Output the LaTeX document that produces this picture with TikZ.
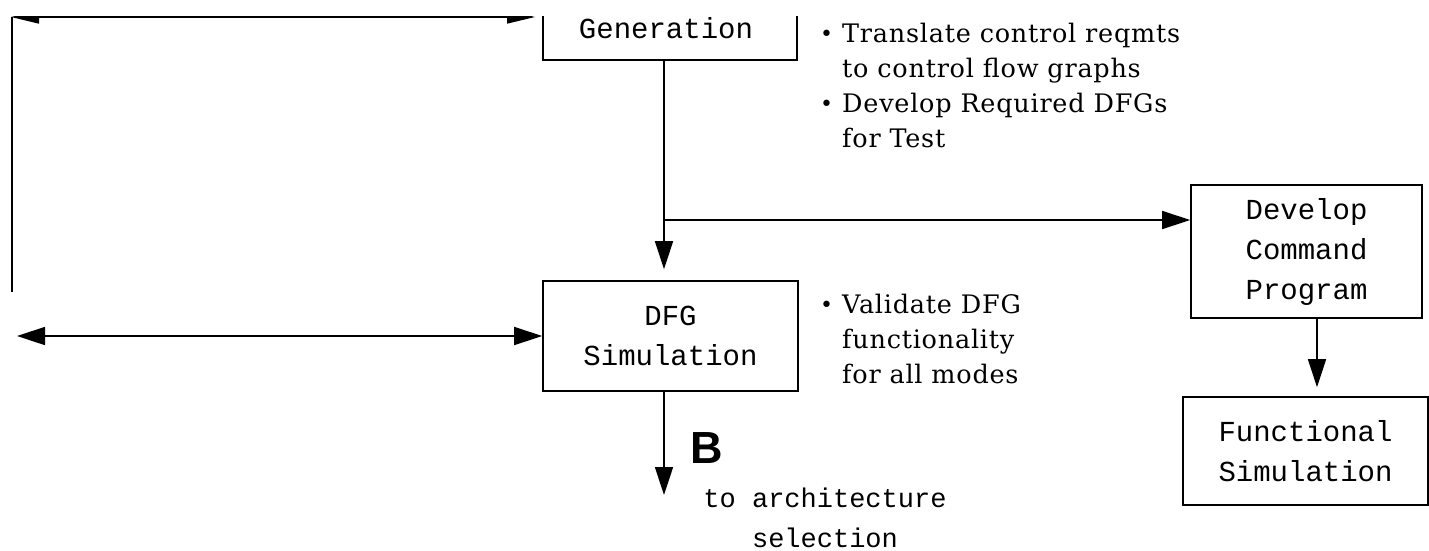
\documentclass[tikz,border=0pt]{standalone}
\usepackage{fontspec}
\setmainfont{DejaVu Serif}
\newfontfamily\notefont{DejaVu Serif}[LetterSpace=3]
\newfontfamily\boxfont{Liberation Mono}
\newfontfamily\bfont{Liberation Sans}
\usetikzlibrary{arrows.meta}
\newcommand{\bulletmark}{\raisebox{1pt}{\fontsize{22}{22}\selectfont •}}
\begin{document}
\begin{tikzpicture}[x=1pt,y=-1pt,
  ln/.style={line width=1.6pt},
  box/.style={draw, line width=1.6pt, inner sep=0pt, align=center, font=\boxfont\fontsize{29}{40}\selectfont},
  arr/.style={ln, -{Triangle[length=28pt,width=18pt]}},
  darr/.style={ln, {Triangle[length=28pt,width=18pt]}-{Triangle[length=28pt,width=18pt]}},
  tarr/.style={ln, {Triangle[length=28pt,width=13pt]}-{Triangle[length=28pt,width=13pt]}},
  note/.style={inner sep=0pt, anchor=base west, font=\notefont\fontsize{25.5}{35}\selectfont}
]
\useasboundingbox (0,0) rectangle (1429,550);
\fill[white] (0,0) rectangle (1429,550);
\clip (0,16) rectangle (1429,550);

% boxes
\node[draw, line width=1.6pt, minimum width=254pt, minimum height=100pt, inner sep=0pt] (gen) at (670,10) {};
\node[inner sep=0pt, anchor=base, font=\boxfont\fontsize{29}{40}\selectfont] (gentext) at (666,38) {Generation};
\node[box, minimum width=255pt, minimum height=110pt] (dfg) at (670.5,336) {DFG\\Simulation};
\node[box, minimum width=231pt, minimum height=133pt] (dev) at (1306.5,251.5) {Develop\\Command\\Program};
\node[box, minimum width=245pt, minimum height=108pt] (func) at (1305.5,451) {Functional\\Simulation};

% coordinates
\coordinate (j) at (664,220);
\coordinate (dc) at (1317,0);
\coordinate (bend) at (664,495);
\coordinate (tl) at (11,17);
\coordinate (tr) at (535,17);
\coordinate (tv) at (12,17);
\coordinate (lb) at (12,292);
\coordinate (lt) at (17,336);

% connectors
\draw[ln] (gen.south -| j) -- (j);
\draw[arr, shorten >=11pt] (j) -- (dfg.north -| j);
\draw[arr] (j) -- (dev.west |- j);
\draw[arr, shorten >=9pt] (dev.south -| dc) -- (func.north -| dc);
\draw[arr] (dfg.south -| bend) -- (bend);
\draw[darr] (lt) -- (dfg.west);
\draw[tarr] (tl) -- (tr);
\draw[ln] (tv) -- (lb);

% notes
\node[note] (n1) at (820,42) {\begin{tabular}[t]{@{}l@{\hspace{9pt}}l@{}}\bulletmark&Translate control reqmts\\&to control flow graphs\\\bulletmark&Develop Required DFGs\\&for Test\end{tabular}};
\node[note] (n2) at (820,313) {\begin{tabular}[t]{@{}l@{\hspace{9pt}}l@{}}\bulletmark&Validate DFG\\&functionality\\&for all modes\end{tabular}};
\node[inner sep=0pt, anchor=base west, font=\bfont\bfseries\fontsize{45}{45}\selectfont] (B) at (690,463) {B};
\node[inner sep=0pt, anchor=base, font=\boxfont\fontsize{27}{40}\selectfont] (arch) at (825,507) {\begin{tabular}[t]{@{}c@{}}to architecture\\selection\end{tabular}};
\end{tikzpicture}
\end{document}
